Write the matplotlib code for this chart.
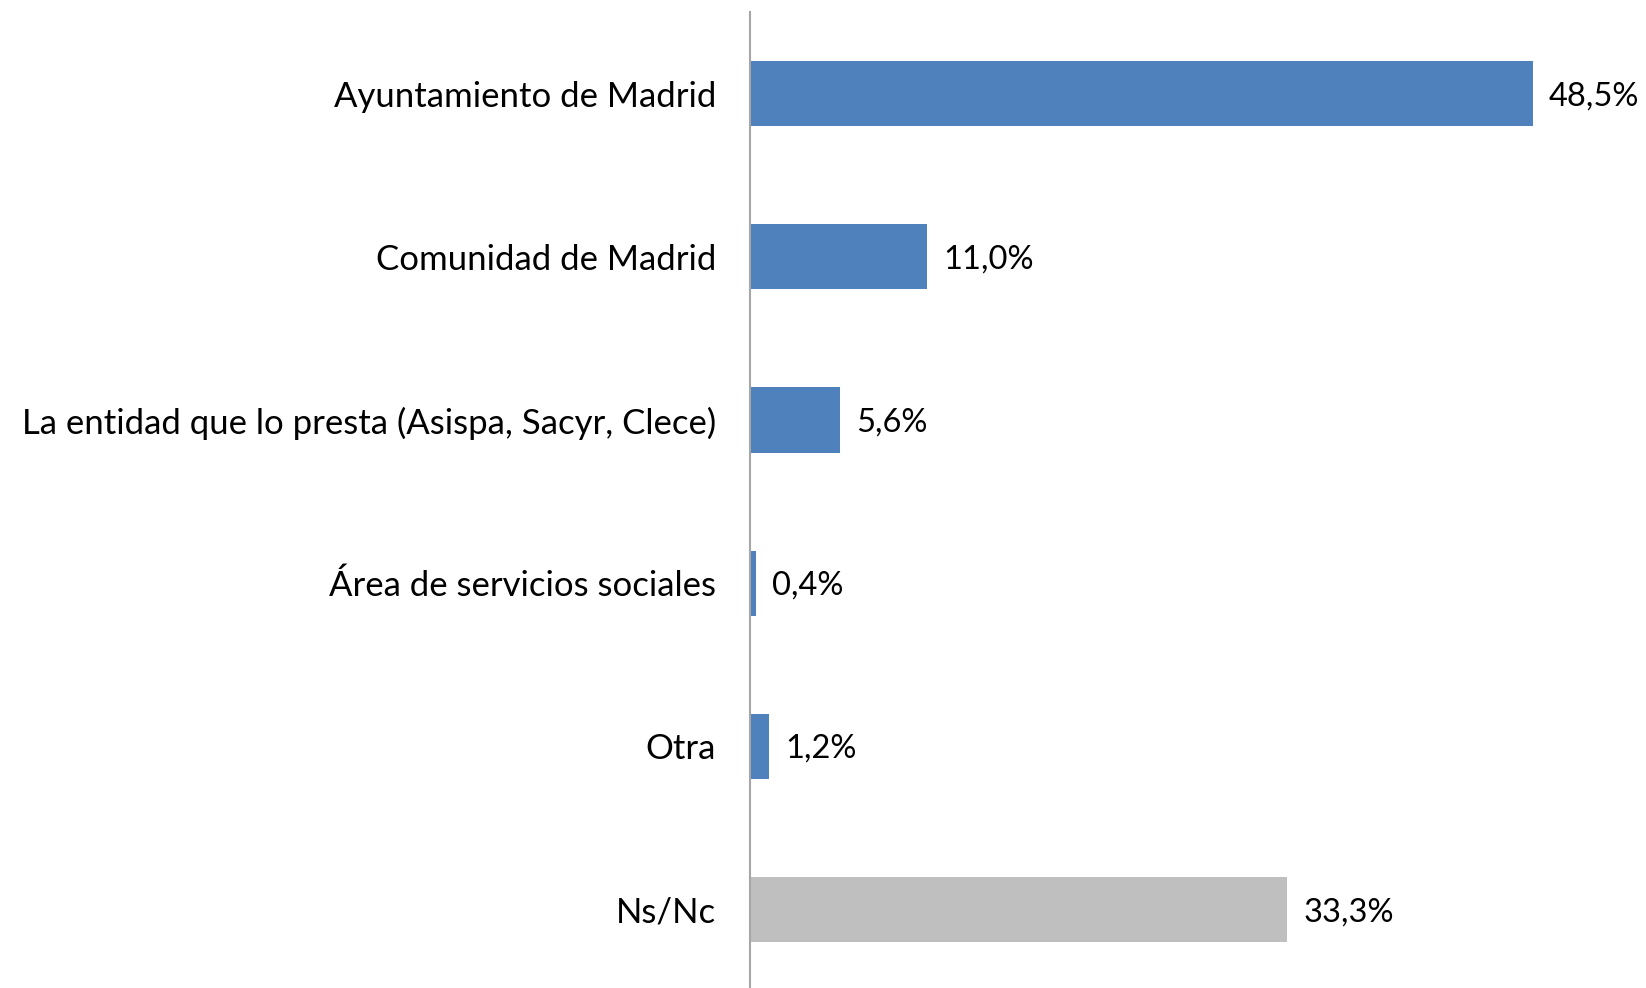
import matplotlib
matplotlib.use("Agg")
import matplotlib.pyplot as plt

categories = ["Ayuntamiento de Madrid", "Comunidad de Madrid",
              "La entidad que lo presta (Asispa, Sacyr, Clece)",
              "Área de servicios sociales", "Otra", "Ns/Nc"]
values = [48.5, 11.0, 5.6, 0.4, 1.2, 33.3]
colors = ["#4F81BD", "#4F81BD", "#4F81BD", "#4F81BD", "#4F81BD", "#BFBFBF"]

plt.rcParams['font.family'] = ['Lato', 'DejaVu Sans']

W, H = 1646, 988
fig = plt.figure(figsize=(W / 100, H / 100), dpi=100)
ax = fig.add_axes([749.5 / W, 0, 1 - 749.5 / W, (988 - 12) / H])

y = list(range(len(categories)))
ax.barh(y, values, height=0.4, color=colors)
ax.set_ylim(5.48, -0.5)
ax.set_xlim(0, (W - 749.5) / 16.15)

for yi, v in zip(y, values):
    ax.text(v + 1.0, yi + 0.015, f"{v:.1f}".replace(".", ",") + "%", va="center", ha="left",
            fontsize=23.5, color="black")

ax.set_yticks(y)
ax.set_yticklabels(categories, fontsize=25)
ax.tick_params(axis="y", length=0, pad=24)
ax.set_xticks([])
for s in ["top", "right", "bottom"]:
    ax.spines[s].set_visible(False)
ax.spines["left"].set_color("#A6A6A6")
ax.spines["left"].set_linewidth(1.5)

fig.savefig("out.png", dpi=100)
